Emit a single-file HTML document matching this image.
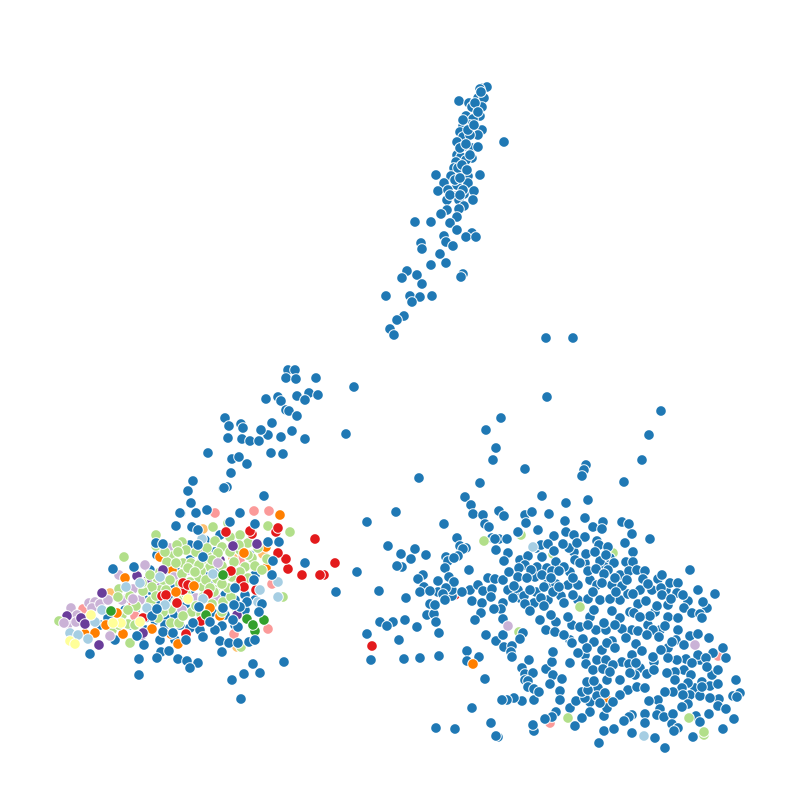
<!DOCTYPE html>
<html>
<head>
<meta charset="utf-8">
<title>Scatter plot</title>
<style>
html,body{margin:0;padding:0;background:#fff;}
svg{display:block;}
</style>
</head>
<body>
<svg id="chart" width="800" height="800" viewBox="0 0 800 800" xmlns="http://www.w3.org/2000/svg">
<rect x="0" y="0" width="800" height="800" fill="#ffffff"/>
</svg>
<script>
const bodyBlue=[[150,590],[160,600],[170,600],[145,600],[155,620],[165,618],[175,615],[185,605],[195,600],[205,590],[215,585],[225,595],[235,600],[245,595],[240,580],[220,570],[200,575],[190,560],[175,570],[165,570],[150,570],[157,555],[190,545],[205,540],[220,535],[235,545],[250,555],[255,575],[145,630],[130,625],[125,610],[135,610],[115,640],[108,618],[100,625],[180,625],[190,628],[200,630],[212,612],[225,615],[235,625],[245,610],[255,600],[145,618],[160,640],[175,640],[165,625],[207,575],[215,552],[190,590],[175,585]];
const backPink=[[718,656],[550,723],[240,560],[212,597],[135,616],[83,609]];
const backLightOrange=[[203,529],[233,558],[263,554],[110,593],[237,647]];
const backRed=[[607,561],[455,595],[133,603],[143,618]];
const backOrange=[[607,700],[266,547],[266,568],[160,557],[172,570],[237,573],[85,634],[123,634],[220,616]];
const backLilac=[[133,589],[119,575],[145,565],[174,577],[170,548],[188,570],[68,624],[127,598],[89,603],[95,602],[182,610],[196,598],[216,598],[71,608],[77,615],[92,608],[64,623],[100,604],[108,600],[122,600],[76,622],[140,600]];
const backPurple=[[67,616],[81,618],[102,593],[137,576],[147,581],[162,584],[203,551],[220,560],[142,635]];
const backGreen=[[521,535],[553,554],[613,553],[519,632],[704,735],[283,597],[130,643],[241,647],[59,621],[253,627],[157,578],[165,583],[183,563],[210,567],[225,570],[202,560],[240,550],[215,590],[160,590],[128,624],[112,630],[122,615],[135,625]];
const midGreen=[[156,535],[124,557],[228,523],[213,527],[268,526],[290,532],[240,535],[230,537],[182,542],[177,545],[215,541],[248,543],[222,547],[173,556],[167,562],[191,563],[207,555],[252,558],[267,559],[245,567],[255,566],[182,574],[201,571],[203,587],[197,578],[217,579],[232,577],[152,587],[119,589],[118,597],[143,591],[151,601],[151,609],[181,597],[171,609],[192,612],[203,597],[223,602],[231,597],[228,588],[119,625],[171,623],[179,623],
[186,550],[196,552],[207,548],[218,553],[230,552],[239,545],[258,548],[176,563],[188,568],[199,565],[212,560],[222,566],[234,562],[240,572],[160,572],[170,580],[180,584],[190,582],[206,580],[222,584],[238,585],[248,578],[156,596],[166,590],[176,602],[186,594],[196,606],[212,604],[222,612],[236,608],[130,596],[136,606],[142,583],[150,575],[163,612],[183,616],[201,614],[214,592],[158,618],[128,610],[178,552],[195,572],[210,588],[226,574],[248,555],[262,570],[165,552],[156,546]];
const frontRed=[[315,539],[335,563],[324,575],[320,575],[302,575],[288,569],[286,559],[278,553],[231,571],[241,580],[256,590],[244,587],[208,594],[186,634],[201,621],[183,590],[162,596],[166,595],[177,603],[276,532],[278,528],[252,534],[250,531],[226,532],[183,583],[188,585]];
const frontOrange=[[280,515],[244,553],[125,578],[194,586],[176,592],[117,613],[106,625],[95,633],[152,629],[171,634],[178,644],[210,608]];
const frontPink=[[215,513],[254,511],[269,511],[272,584],[268,629],[234,634]];
const frontPurple=[[99,645],[143,633],[85,624],[163,570],[233,546],[257,544],[237,615]];
const frontLilac=[[110,636],[133,599],[218,563]];
const frontLightBlue=[[202,539],[160,577],[140,583],[126,587],[102,610],[95,622],[88,639],[70,633],[78,635],[278,597],[258,602],[278,582],[165,605],[213,574],[260,590],[203,599],[147,608]];
const frontYellow=[[70,641],[75,644],[91,615],[121,623],[113,623],[140,622],[188,599]];
const frontDarkGreen=[[255,631],[247,619],[264,620],[206,615],[111,611],[253,625],[223,575]];
const topLeftLilac=[[64,623]];
const mainBlue=[
[482,88],[487,87],[480,89],[459,101],[469,103],[478,98],[484,98],[478,107],[472,107],[482,107],[480,116],[466,116],[473,119],[470,125],[463,126],[482,130],[478,135],[467,138],[460,132],[463,137],[457,142],[504,142],[472,148],[478,147],[464,146],[457,155],[461,157],[472,158],[456,162],[465,163],[454,168],[462,174],[468,176],[480,175],[451,176],[436,175],[444,183],[457,185],[468,183],[438,191],[448,190],[455,196],[464,194],[474,191],[473,200],[447,200],[459,200],[464,206],[459,209],[447,210],[441,214],[457,217],[415,222],[431,222],[450,223],[457,230],[472,233],[466,237],[476,237],[444,236],[446,242],[421,243],[422,249],[453,246],[440,254],[431,265],[446,263],[407,271],[417,275],[402,278],[463,274],[461,277],[422,284],[386,296],[410,296],[420,297],[432,296],[412,302],[404,316],[397,320],[390,329],[394,335],[463,120],[470,135],[460,148],[466,160],[458,168],[462,165],[467,170],[455,180],[460,178],[463,190],[450,195],[460,195],[475,103],[481,92],[478,112],[468,130],[474,125],[466,144],[470,155],
[288,370],[295,370],[286,378],[296,379],[316,378],[354,387],[278,397],[266,399],[281,401],[297,396],[309,393],[318,395],[305,400],[286,410],[289,411],[297,416],[225,418],[241,424],[243,428],[229,426],[346,434],[228,438],[242,439],[250,441],[259,441],[268,435],[261,430],[272,423],[281,437],[292,431],[305,439],[271,453],[283,454],[208,453],[232,459],[239,457],[247,464],[231,473],[223,488],[227,487],[193,481],[188,491],[191,503],[264,496],[181,513],
[546,338],[573,338],[547,397],[661,411],[501,418],[486,430],[649,435],[496,448],[493,460],[642,460],[525,469],[586,465],[584,470],[582,476],[419,478],[480,483],[624,482],
[465,497],[471,505],[473,514],[483,515],[499,511],[504,516],[525,515],[532,512],[542,496],[549,514],[566,503],[588,500],[396,512],[367,522],[444,524],[485,524],[489,527],[526,523],[538,530],[585,518],[565,521],[603,522],[622,522],[629,524],[593,527],[602,529],[518,532],[566,532],[554,536],[574,535],[585,537],[632,534],[650,539],[457,538],[492,538],[499,539],[507,539],[495,539],[388,546],[460,546],[466,548],[463,549],[496,550],[541,545],[548,544],[569,548],[563,544],[577,543],[597,541],[599,545],[608,547],[625,543],[415,549],[401,554],[426,555],[411,559],[446,557],[458,556],[448,561],[454,558],[508,553],[504,561],[520,560],[528,556],[542,557],[554,551],[586,554],[595,552],[606,555],[633,552],[626,562],[633,562],[614,563],[575,560],[580,563],[564,567],[525,565],[519,568],[531,570],[547,568],[552,571],[559,571],[588,571],[596,569],[608,570],[629,571],[637,570],[645,571],[690,570],[402,567],[397,566],[445,568],[469,570],[357,572],[423,575],[418,579],[438,581],[449,577],[454,582],[495,579],[503,580],[509,572],[518,577],[527,578],[542,575],[551,578],[573,578],[604,574],[615,578],[602,583],[622,586],[627,580],[643,579],[658,579],[662,575],[648,584],[670,583],[678,583],[661,588],[698,590],[715,594],[424,587],[420,592],[430,591],[446,588],[443,594],[462,592],[478,585],[483,591],[492,589],[514,586],[472,601],[491,597],[482,603],[445,600],[503,603],[513,598],[524,596],[530,590],[544,587],[541,598],[553,592],[559,587],[573,595],[588,599],[593,592],[610,599],[616,592],[633,594],[646,601],[662,595],[677,593],[683,595],[671,599],[657,606],[684,608],[707,608],[703,602],[692,613],[700,614],[702,618],[406,598],[430,604],[427,615],[434,614],[435,605],[436,622],[417,627],[405,620],[393,622],[380,622],[387,626],[379,591],[501,609],[494,609],[481,613],[475,620],[503,619],[525,604],[530,611],[544,606],[551,615],[564,603],[540,620],[546,630],[555,632],[568,617],[580,627],[590,617],[588,625],[594,610],[612,611],[604,623],[622,629],[615,625],[634,613],[650,616],[640,617],[668,617],[678,618],[665,626],[653,630],[638,631],[626,638],[647,635],[659,637],[672,642],[612,641],[607,643],[594,642],[583,639],[572,643],[564,635],[587,648],[578,653],[615,648],[632,655],[642,651],[661,650],[653,657],[690,636],[698,634],[709,638],[713,653],[723,648],[726,658],[698,655],[706,658],[686,659],[677,660],[668,658],[692,663],[707,667],[718,670],[675,672],[667,673],[691,675],[688,683],[675,680],[736,680],[702,682],[710,686],[718,684],[682,688],[700,696],[673,692],[665,692],[683,695],[719,699],[710,698],[733,696],[740,693],[737,697],[718,706],[726,709],[688,704],[682,707],[658,700],[649,701],[660,709],[657,715],[664,717],[645,714],[673,714],[709,714],[696,716],[700,722],[734,719],[723,729],[645,723],[632,715],[629,717],[624,721],[672,724],[678,728],[674,731],[632,733],[655,738],[693,737],[665,748],[599,743],[604,731],[614,729],[604,716],[607,708],[590,712],[582,718],[575,726],[556,712],[552,717],[545,719],[534,700],[522,701],[514,698],[507,700],[502,700],[491,723],[472,708],[436,728],[455,729],[498,737],[496,736],[534,731],[533,725],[485,679],[467,651],[479,657],[467,661],[439,656],[420,658],[404,659],[371,660],[399,640],[367,634],[439,633],[486,635],[496,641],[503,635],[504,647],[512,646],[523,633],[520,639],[511,652],[512,657],[529,660],[522,668],[546,669],[552,662],[553,652],[570,663],[525,674],[533,673],[553,675],[562,679],[525,680],[528,681],[528,687],[550,684],[534,689],[539,692],[560,691],[560,700],[576,701],[585,698],[582,692],[588,690],[587,682],[594,681],[607,680],[597,696],[605,693],[613,702],[600,703],[586,664],[597,660],[606,660],[613,665],[593,670],[603,669],[610,672],[629,664],[636,663],[635,675],[647,674],[654,670],[630,673],[637,687],[645,688],[702,687],
[191,503],[224,488],[180,513],[196,513],[207,510],[240,513],[230,522],[176,526],[192,527],[198,530],[255,524],[279,542],[268,542],[156,543],[163,544],[198,545],[203,557],[273,561],[305,563],[113,569],[134,567],[272,575],[254,580],[336,592],[235,588],[247,602],[240,607],[262,604],[259,612],[199,607],[223,608],[234,605],[152,616],[193,623],[222,626],[238,627],[163,632],[137,636],[144,645],[203,637],[186,640],[215,630],[220,641],[229,643],[238,643],[249,642],[255,640],[222,652],[161,652],[169,651],[157,658],[139,659],[90,654],[178,659],[187,661],[198,663],[190,668],[139,675],[253,664],[284,662],[244,674],[260,673],[232,680],[241,699],[157,609],[173,633],[210,622],[233,620]
];
const denseBlue=[
[454,592],[452,596],[604,564],[610,558],
[537,567],[535,577],[548,583],[556,584],[568,585],[578,585],[590,580],[597,585],[612,585],[620,575],[600,561],[585,563],[570,572],[556,562],[536,548],[574,552],
[518,590],[536,592],[534,603],[548,600],[561,596],[578,600],[600,600],[620,600],[628,594],[640,590],[652,590],[638,604],[630,612],[655,612],[668,605],[666,590],[688,601],
[520,598],[508,590],[488,578],[470,590],[452,590],[438,592],
[556,622],[572,625],[596,630],[606,630],[620,618],[632,630],[648,625],[660,630],[678,630],[676,640],[684,645],[668,648],[636,644],[602,650],[585,655],[570,640],
[622,662],[620,680],[640,668],[654,662],[684,670],[700,660],[712,675],[695,688],[690,695],[628,690],[620,695],[598,688],[590,702],[570,708]
];
const topGreen=[[484,541],[580,607],[568,718],[689,718],[704,732]];
const topLilac=[[508,626],[695,645]];
const topLightBlue=[[533,547],[644,736]];
const topOrange=[[473,664]];
const topRed=[[372,646]];

const colorByCategory={blue:'#1f78b4',lightBlue:'#a6cee3',green:'#b2df8a',darkGreen:'#33a02c',pink:'#fb9a99',red:'#e31a1c',lightOrange:'#fdbf6f',orange:'#ff7f00',lilac:'#cab2d6',purple:'#6a3d9a',yellow:'#ffff99'};
const drawOrder=[
['blue',bodyBlue],['pink',backPink],['lightOrange',backLightOrange],['red',backRed],['orange',backOrange],['lilac',backLilac],['purple',backPurple],['green',backGreen],['green',midGreen],
['red',frontRed],['orange',frontOrange],['pink',frontPink],['lilac',frontLilac],['purple',frontPurple],['lightBlue',frontLightBlue],['yellow',frontYellow],['darkGreen',frontDarkGreen],['lilac',topLeftLilac],
['blue',denseBlue],['blue',mainBlue],['green',topGreen],['lilac',topLilac],['lightBlue',topLightBlue],['orange',topOrange],['red',topRed]
];

const xDomain=[0,800],xRange=[0,800],yDomain=[0,800],yRange=[0,800];
function xScale(v){return xRange[0]+(v-xDomain[0])*(xRange[1]-xRange[0])/(xDomain[1]-xDomain[0]);}
function yScale(v){return yRange[0]+(v-yDomain[0])*(yRange[1]-yRange[0])/(yDomain[1]-yDomain[0]);}

const svg=document.getElementById('chart');
const NS='http://www.w3.org/2000/svg';
drawOrder.forEach(function(entry){
  const category=entry[0];
  entry[1].forEach(function(p){
    const c=document.createElementNS(NS,'circle');
    c.setAttribute('cx',xScale(p[0]));
    c.setAttribute('cy',yScale(p[1]));
    c.setAttribute('r',5.3);
    c.setAttribute('fill',colorByCategory[category]);
    c.setAttribute('stroke','#ffffff');
    c.setAttribute('stroke-width',0.9);
    
    
    svg.appendChild(c);
  });
});
</script>
</body>
</html>
